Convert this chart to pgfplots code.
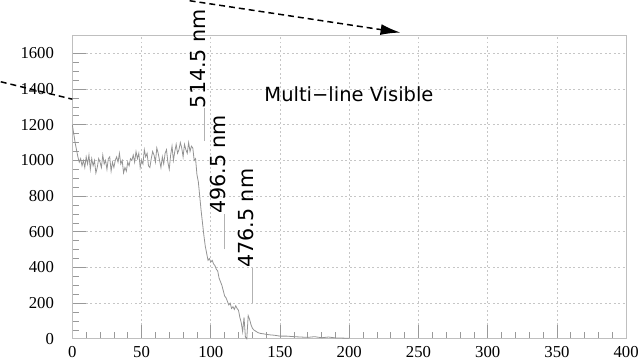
\documentclass[border=0pt]{standalone}
\usepackage{pgfplots}
\pgfplotsset{compat=1.18}
\usepackage{fontspec}
\setmainfont{Liberation Serif}
\newfontfamily\tickfont{Liberation Serif}
\newfontfamily\annfont{DejaVu Sans}
\usetikzlibrary{arrows.meta}
\begin{document}
\begin{tikzpicture}
\begin{axis}[
  scale only axis,
  width=557bp, height=305bp,
  xmin=0, xmax=400, ymin=0, ymax=1700,
  xtick={0,50,...,400}, ytick={0,200,...,1600},
  minor x tick num=4, minor y tick num=3,
  xtick pos=bottom, ytick pos=left,
  major tick length=14bp, minor tick length=7bp,
  tick style={gray!80, line width=0.7bp},
  axis line style={gray!50, line width=0.9bp},
  grid=major,
  major grid style={gray!45, dash pattern=on 2bp off 2.5bp, line width=0.7bp},
  /pgf/number format/assume math mode=true,
  /pgf/number format/1000 sep={},
  xticklabel={\tickfont\fontsize{16.8bp}{18bp}\selectfont\pgfmathprintnumber[assume math mode=true,1000 sep={}]{\tick}},
  yticklabel={\tickfont\fontsize{16.8bp}{18bp}\selectfont\pgfmathprintnumber[assume math mode=true,1000 sep={}]{\tick}},
  yticklabel style={xshift=-15bp},
  xticklabel style={yshift=-4bp},
  clip=false,
]
\addplot[gray!85, line width=0.8bp, mark=none] coordinates {
(0,1200)(1,1150)(2,1100)(3,1060)(4,1020)(5,990)(6,1010)(7,970)(8,1000)(9,960)
(10,1020)(11,980)(12,1030)(13,950)(14,1010)(15,970)(16,1000)(17,930)(18,960)(19,1010)
(20,990)(21,960)(22,1030)(23,980)(24,1000)(25,950)(26,1010)(27,1020)(28,940)(29,990)
(30,960)(31,1000)(32,1020)(33,990)(34,1040)(35,980)(36,1000)(37,930)(38,960)(39,940)
(40,990)(41,970)(42,1010)(43,1000)(44,1030)(45,990)(46,1050)(47,1010)(48,1040)(49,960)
(50,1000)(51,980)(52,1060)(53,1020)(54,1040)(55,970)(56,960)(57,1010)(58,1050)(59,1030)
(60,990)(61,1070)(62,1040)(63,1000)(64,960)(65,1020)(66,980)(67,1040)(68,1060)(69,990)
(70,950)(71,1030)(72,1080)(73,1000)(74,1050)(75,1090)(76,1040)(77,1060)(78,1100)(79,1070)
(80,1020)(81,1090)(82,1060)(83,1040)(84,1100)(85,1050)(86,1080)(87,1070)(88,1000)(89,1010)
(90,920)(91,880)(92,800)(93,720)(94,650)(95,580)(96,520)(97,480)(98,440)(99,450)
(100,430)(101,440)(102,420)(103,410)(104,390)(105,380)(106,340)(107,320)(108,300)(109,270)
(110,240)(111,230)(112,210)(113,190)(114,200)(115,170)(116,180)(117,165)(118,185)(119,170)
(120,160)(121,120)(122,90)(123,40)(124,120)(125,10)(126,0)(127,130)(128,110)(129,80)
(130,60)(131,50)(132,45)(133,40)(134,35)(136,30)(138,28)(140,25)(143,22)(146,20)
(150,15)(155,15)(160,12)(165,10)(170,8)(175,12)(180,6)(185,10)(190,5)(195,4)(200,3)
};
% annotation lines
\addplot[gray!60, line width=0.8bp] coordinates {(95.7,1108)(95.7,1292)};
\addplot[gray!60, line width=0.8bp] coordinates {(110,502)(110,697)};
\addplot[gray!60, line width=0.8bp] coordinates {(129.7,203)(129.7,397)};
\node[rotate=90, anchor=base west, inner sep=0pt, font=\annfont\fontsize{20.8bp}{22bp}\selectfont] at (axis cs:96.2,1292) {514.5 nm};
\node[rotate=90, anchor=base west, inner sep=0pt, font=\annfont\fontsize{20.8bp}{22bp}\selectfont] at (axis cs:110.8,699) {496.5 nm};
\node[rotate=90, anchor=base west, inner sep=0pt, font=\annfont\fontsize{20.8bp}{22bp}\selectfont] at (axis cs:130.5,397) {476.5 nm};
\node[anchor=base west, inner sep=0pt, font=\annfont\fontsize{19.6bp}{21bp}\selectfont] at (axis cs:138.6,1327.6) {Multi−line Visible};
\end{axis}
\draw[black, line width=1.5bp, dash pattern=on 6bp off 4bp] (-72bp,258.5bp) -- (0bp,241bp);
\draw[black, line width=1.5bp, dash pattern=on 6bp off 4bp, -{Latex[length=20bp,width=11bp]}] (118bp,340bp) -- (330bp,308bp);
\useasboundingbox (-70bp,-25bp) rectangle (572bp,338bp);
\end{tikzpicture}
\end{document}
